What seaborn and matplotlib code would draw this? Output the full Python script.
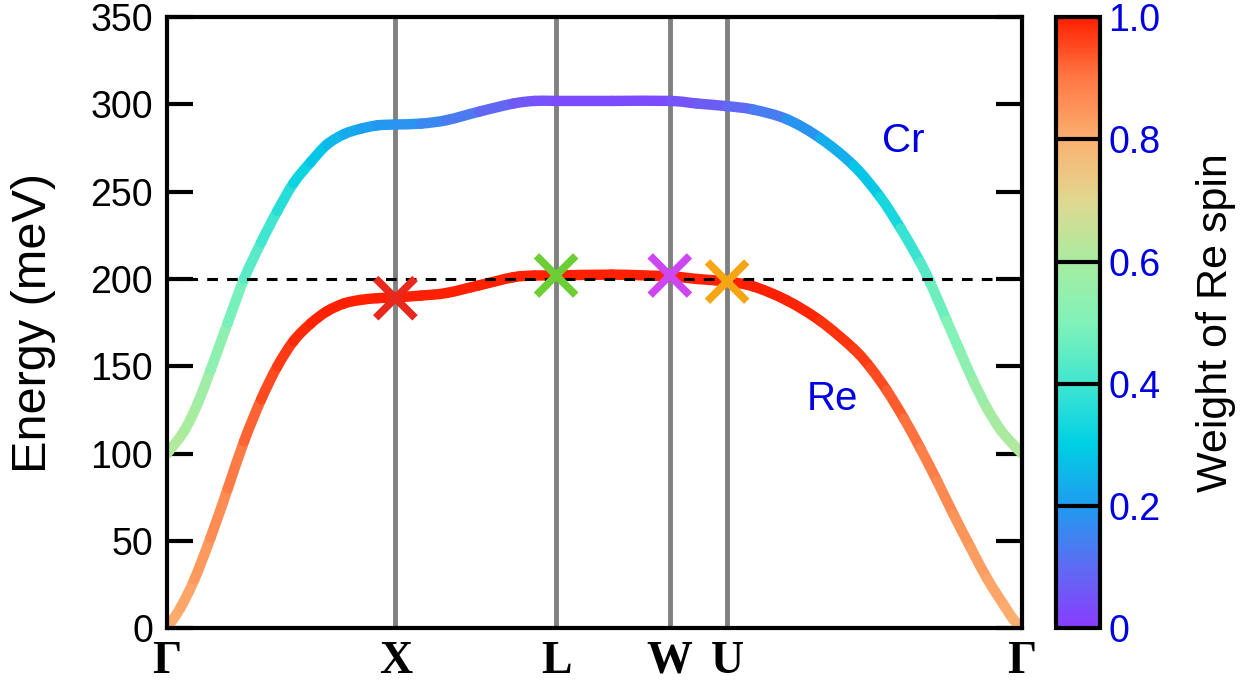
import numpy as np
import pandas as pd
import seaborn as sns
import matplotlib.pyplot as plt
from matplotlib.path import Path
from matplotlib.patches import PathPatch
from matplotlib.colors import LinearSegmentedColormap, Normalize
from matplotlib.cm import ScalarMappable

# high-symmetry path
kpt_labels = ['Γ', 'X', 'L', 'W', 'U', 'Γ']
kpt_pos = [0.0, 0.267, 0.455, 0.588, 0.655, 1.0]

# Cr-like (upper) branch
cr_k = [0.0, 0.020, 0.036, 0.051, 0.071, 0.090, 0.110, 0.129, 0.148, 0.168,
        0.187, 0.207, 0.226, 0.246, 0.267, 0.297, 0.327, 0.366, 0.405, 0.430,
        0.455, 0.52, 0.588, 0.620, 0.655, 0.686, 0.725, 0.764, 0.803, 0.834,
        0.858, 0.881, 0.893, 0.912, 0.928, 0.943, 0.959, 0.975, 0.990, 1.0]
cr_E = [100, 113, 129, 148, 175, 200, 221, 239, 255, 267,
        277, 283, 286, 288, 288.5, 289, 291, 296, 300.5, 302,
        302, 302, 302, 300.5, 299, 297, 291.5, 280.6, 265, 247,
        229, 209.5, 197.5, 176, 158, 141.5, 126, 113.5, 105, 100]
cr_w = [0.62, 0.61, 0.59, 0.56, 0.51, 0.46, 0.42, 0.38, 0.34, 0.30,
        0.27, 0.24, 0.22, 0.20, 0.19, 0.17, 0.15, 0.11, 0.07, 0.05,
        0.04, 0.03, 0.04, 0.06, 0.08, 0.11, 0.16, 0.21, 0.26, 0.31,
        0.36, 0.42, 0.45, 0.49, 0.52, 0.55, 0.58, 0.60, 0.61, 0.62]

# Re-like (lower) branch
re_k = [0.0, 0.016, 0.032, 0.051, 0.071, 0.090, 0.110, 0.129, 0.148, 0.168,
        0.187, 0.207, 0.226, 0.246, 0.267, 0.297, 0.327, 0.366, 0.405, 0.430,
        0.455, 0.52, 0.588, 0.620, 0.655, 0.686, 0.725, 0.764, 0.803, 0.823,
        0.842, 0.862, 0.881, 0.901, 0.920, 0.940, 0.959, 0.979, 0.990, 1.0]
re_E = [0, 12, 28, 52, 80, 107, 131, 150, 164.5, 174.5,
        181.5, 186, 188, 189, 189.5, 190.5, 192, 196.5, 201, 202,
        202, 202.5, 201.5, 200, 198.5, 195.7, 187.7, 176, 160, 149,
        136, 120, 103, 84, 65, 46, 28.5, 13, 5, 0]
re_w = [0.80, 0.81, 0.83, 0.85, 0.88, 0.91, 0.94, 0.96, 0.98, 0.99,
        1.0, 1.0, 1.0, 1.0, 1.0, 1.0, 1.0, 1.0, 1.0, 1.0,
        1.0, 1.0, 1.0, 1.0, 1.0, 1.0, 1.0, 0.99, 0.97, 0.96,
        0.94, 0.92, 0.90, 0.88, 0.86, 0.84, 0.83, 0.81, 0.80, 0.80]

# crossing markers
mark_k = [0.267, 0.455, 0.588, 0.655]
mark_E = [189, 202, 202, 198.5]
mark_names = ['X', 'L', 'W', 'U']
mark_colors = ['#e8281c', '#6cce34', '#cc46f2', '#f6a614']

cmap = LinearSegmentedColormap.from_list('respin', [
    (0.0, '#8a3cff'), (0.1, '#5d6cf2'), (0.2, '#1f9cf0'), (0.3, '#00cfe4'),
    (0.4, '#40e6d0'), (0.5, '#80f2b8'), (0.6, '#a8eca0'), (0.7, '#e0d890'),
    (0.8, '#fbb070'), (0.9, '#ff7a45'), (1.0, '#ff2000')])
norm = Normalize(0, 1)

sns.set_theme(style='ticks')
plt.rcParams['font.family'] = ['Liberation Sans', 'DejaVu Sans']
plt.rcParams.update({'text.color': 'black', 'axes.labelcolor': 'black',
                     'xtick.color': 'black', 'ytick.color': 'black',
                     'axes.edgecolor': 'black'})

fig = plt.figure(figsize=(12.47, 6.85), dpi=100)
ax = fig.add_axes([0.134, 0.083, 0.6856, 0.892])

for k in kpt_pos[1:-1]:
    ax.axvline(k, color='#808080', lw=3.5, zorder=1)


def gradient_line(k, e, w):
    # each piece between two read points is a smooth cubic (Catmull-Rom)
    pts = np.column_stack([k, e]).astype(float)
    n = len(pts)
    tang = np.empty_like(pts)
    tang[1:-1] = (pts[2:] - pts[:-2]) / 2
    tang[0] = pts[1] - pts[0]
    tang[-1] = pts[-1] - pts[-2]
    for i in range(n - 1):
        p0, p3 = pts[i], pts[i + 1]
        p1 = p0 + tang[i] / 3
        p2 = p3 - tang[i + 1] / 3
        path = Path([p0, p1, p2, p3],
                    [Path.MOVETO, Path.CURVE4, Path.CURVE4, Path.CURVE4])
        col = cmap(norm((w[i] + w[i + 1]) / 2))
        ax.add_patch(PathPatch(path, fill=False, edgecolor=col, lw=7.5,
                               capstyle='round', joinstyle='round', zorder=2))


gradient_line(cr_k, cr_E, cr_w)
gradient_line(re_k, re_E, re_w)

ax.axhline(200, color='black', lw=2.2, ls=(0, (3.5, 3)), zorder=3)

df_mark = pd.DataFrame({'k': mark_k, 'E': mark_E, 'name': mark_names})
sns.scatterplot(data=df_mark, x='k', y='E', hue='name', palette=mark_colors,
                marker='x', s=800, linewidth=5.5, legend=False, ax=ax, zorder=4)

ax.text(0.861, 279, 'Cr', color='#0000e0', fontsize=29, ha='center', va='center')
ax.text(0.778, 131, 'Re', color='#0000e0', fontsize=29, ha='center', va='center')

ax.set_xlim(0, 1)
ax.set_ylim(0, 350)
ax.set_yticks(np.arange(0, 351, 50))
ax.set_xticks(kpt_pos)
ax.set_xticklabels(kpt_labels, family='Liberation Serif', fontweight='bold',
                   fontsize=33)
ax.tick_params(axis='x', length=0, pad=9)
ax.tick_params(axis='y', direction='in', length=19, width=3, labelsize=27,
               left=True, right=True, pad=10)
ax.set_xlabel('')
ax.set_ylabel('Energy (meV)', fontsize=35, labelpad=25)
for sp in ax.spines.values():
    sp.set_visible(True)
    sp.set_linewidth(3)
    sp.set_color('black')

# colorbar
cax = fig.add_axes([0.847, 0.083, 0.035, 0.892])
cb = fig.colorbar(ScalarMappable(norm=norm, cmap=cmap), cax=cax)
cb.outline.set_linewidth(3)
cb.outline.set_edgecolor('black')
cb.set_ticks([0, 0.2, 0.4, 0.6, 0.8, 1.0])
cb.set_ticklabels(['0', '0.2', '0.4', '0.6', '0.8', '1.0'])
cb.ax.tick_params(length=0, labelsize=27, labelcolor='#0000e0', pad=6)
for v in [0.2, 0.4, 0.6, 0.8]:
    cb.ax.axhline(v, color='black', lw=3)
cb.set_label('Weight of Re spin', fontsize=31, labelpad=26)

fig.savefig('out.png', dpi=100)
